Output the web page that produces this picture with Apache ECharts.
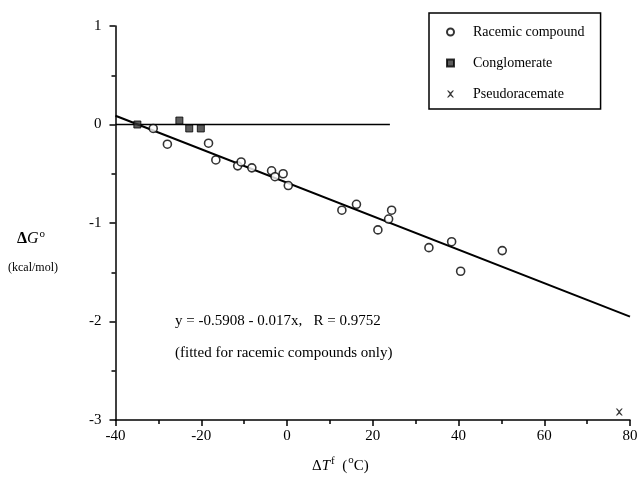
<!DOCTYPE html>
<html>
<head>
<meta charset="utf-8">
<script src="https://cdn.jsdelivr.net/npm/echarts@6/dist/echarts.min.js"></script>
<style>
  html, body { margin: 0; padding: 0; background: #fff; }
  #chart { width: 641px; height: 485px; }
</style>
</head>
<body>
<div id="chart"></div>
<script>
// ΔT^f (°C) and ΔG° (kcal/mol) for each compound class
const racemicX = [-31.2, -27.9, -18.3, -16.6, -11.5, -10.7, -8.2, -3.6, -2.8, -0.9, 0.3, 12.8, 16.2, 21.2, 23.7, 24.4, 33.1, 38.4, 40.5, 50.2];
const racemicY = [-0.04, -0.20, -0.19, -0.36, -0.42, -0.38, -0.44, -0.47, -0.53, -0.50, -0.62, -0.87, -0.81, -1.07, -0.96, -0.87, -1.25, -1.19, -1.49, -1.28];
const conglomerateX = [-34.9, -25.1, -22.8, -20.1];
const conglomerateY = [0.00, 0.04, -0.04, -0.04];
const pseudoX = [77.5];
const pseudoY = [-2.92];

// Linear fit for the racemic compounds: y = a + b x
const fitIntercept = -0.5908;
const fitSlope = -0.017;
const fitRange = [-40, 80];
// Reference line ΔG° = 0
const zeroRange = [-40, 24];

const xTicks = [-40, -20, 0, 20, 40, 60, 80];
const yTicks = [-3, -2, -1, 0, 1];

const seriesNames = ['Racemic compound', 'Conglomerate', 'Pseudoracemate'];

const serif = '"Liberation Serif", "Times New Roman", serif';
const zip = (xs, ys) => xs.map((x, i) => [x, ys[i]]);

const chart = echarts.init(document.getElementById('chart'), null, { renderer: 'canvas' });

const crossPath = 'path://M0,0 L2,0 L5,3 L8,0 L10,0 L6,5 L10,10 L8,10 L5,7 L2,10 L0,10 L4,5 Z';

chart.setOption({
  animation: false,
  backgroundColor: '#fff',
  textStyle: { fontFamily: serif, color: '#000' },
  grid: { left: 115.5, top: 26, right: 11, bottom: 65 },
  xAxis: {
    type: 'value',
    min: xTicks[0],
    max: xTicks[xTicks.length - 1],
    interval: 20,
    axisLine: { onZero: false, lineStyle: { color: '#000', width: 1.5 } },
    axisTick: { show: true, length: 6, lineStyle: { color: '#000', width: 1.5 } },
    minorTick: { show: true, splitNumber: 2, length: 4, lineStyle: { color: '#000', width: 1.5 } },
    splitLine: { show: false },
    axisLabel: { fontFamily: serif, fontSize: 15, color: '#000', margin: 9 }
  },
  yAxis: {
    type: 'value',
    min: yTicks[0],
    max: yTicks[yTicks.length - 1],
    interval: 1,
    axisLine: { onZero: false, lineStyle: { color: '#000', width: 1.5 } },
    axisTick: { show: true, length: 6, lineStyle: { color: '#000', width: 1.5 } },
    minorTick: { show: true, splitNumber: 2, length: 4, lineStyle: { color: '#000', width: 1.5 } },
    splitLine: { show: false },
    axisLabel: { fontFamily: serif, fontSize: 15, color: '#000', margin: 14 }
  },
  legend: {
    orient: 'vertical',
    left: 429,
    top: 13,
    data: seriesNames,
    backgroundColor: '#fff',
    borderColor: '#000',
    borderWidth: 1.5,
    padding: [12, 16, 8, 17],
    itemWidth: 7,
    itemHeight: 7,
    itemGap: 17,
    textStyle: { fontFamily: serif, fontSize: 14, lineHeight: 14, color: '#000', padding: [0, 0, 0, 14] }
  },
  graphic: [
    {
      type: 'text', left: 17, top: 229,
      style: {
        text: '{d|Δ}{g|G}{s|o}',
        rich: {
          d: { fontFamily: serif, fontSize: 16, fill: '#000', fontWeight: 'bold' },
          g: { fontFamily: serif, fontSize: 16, fontStyle: 'italic', fill: '#000' },
          s: { fontFamily: serif, fontSize: 11, fill: '#000', verticalAlign: 'top', padding: [0, 0, 8, 1] }
        }
      }
    },
    {
      type: 'text', left: 8, top: 262,
      style: { text: '(kcal/mol)', fontFamily: serif, fontSize: 12, fill: '#000' }
    },
    {
      type: 'text', left: 312, top: 455,
      style: {
        text: '{d|Δ}{t|T}{s|f}{sp|  }{p|(}{o|o}{c|C)}',
        rich: {
          d: { fontFamily: serif, fontSize: 15, fill: '#000' },
          t: { fontFamily: serif, fontSize: 15, fontStyle: 'italic', fill: '#000' },
          s: { fontFamily: serif, fontSize: 11, fill: '#000', padding: [0, 0, 10, 1] },
          sp: { fontFamily: serif, fontSize: 15 },
          p: { fontFamily: serif, fontSize: 15, fill: '#000' },
          o: { fontFamily: serif, fontSize: 11, fill: '#000', padding: [0, 0, 12, 1] },
          c: { fontFamily: serif, fontSize: 15, fill: '#000' }
        }
      }
    },
    {
      type: 'text', left: 175, top: 314,
      style: { text: 'y = -0.5908 - 0.017x,   R = 0.9752', fontFamily: serif, fontSize: 15, fill: '#000' }
    },
    {
      type: 'text', left: 175, top: 346,
      style: { text: '(fitted for racemic compounds only)', fontFamily: serif, fontSize: 15, fill: '#000' }
    }
  ],
  series: [
    {
      name: 'fit',
      type: 'line',
      data: fitRange.map(x => [x, fitIntercept + fitSlope * x]),
      symbol: 'none',
      lineStyle: { color: '#000', width: 2 },
      silent: true,
      z: 1
    },
    {
      name: 'zero',
      type: 'line',
      data: zeroRange.map(x => [x, 0]),
      symbol: 'none',
      lineStyle: { color: '#000', width: 1.5 },
      silent: true,
      z: 1
    },
    {
      name: seriesNames[0],
      type: 'scatter',
      data: zip(racemicX, racemicY),
      symbol: 'circle',
      symbolSize: 8,
      itemStyle: { color: '#fff', borderColor: '#000', borderWidth: 1.6 },
      z: 3
    },
    {
      name: seriesNames[1],
      type: 'scatter',
      data: zip(conglomerateX, conglomerateY),
      symbol: 'rect',
      symbolSize: 7,
      itemStyle: { color: '#333', borderColor: '#000', borderWidth: 1 },
      z: 3
    },
    {
      name: seriesNames[2],
      type: 'scatter',
      data: zip(pseudoX, pseudoY),
      symbol: crossPath,
      symbolSize: 7,
      itemStyle: { color: '#000' },
      z: 3
    }
  ]
});
</script>
</body>
</html>
